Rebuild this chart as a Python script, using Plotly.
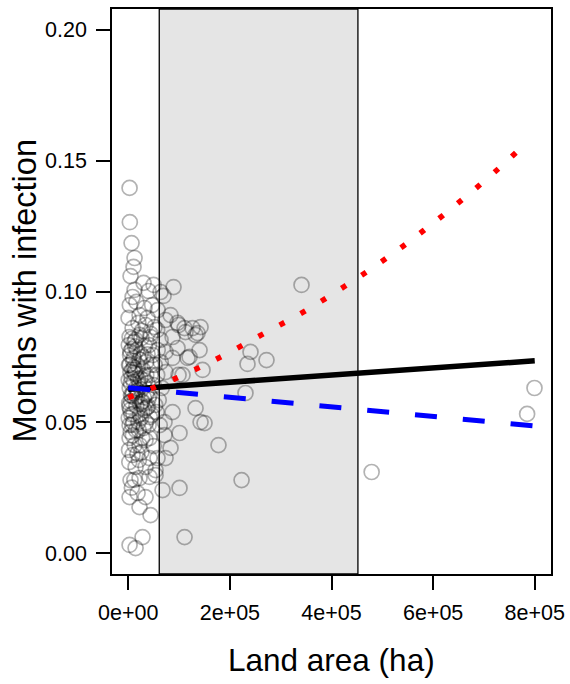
import plotly.graph_objects as go

# land area (ha) and proportion of months with infection
area = [2600, 3100, 6500, 12400, 10400, 4500, 30100, 49800, 89100, 12400,
        63600, 39900, 69500, 8500, 32000, 22200, 38000, 73400, 97000, 8500,
        51700, 126500, 136400, 110800, 2600, 22200, 43900, 63600, 14400, 83200,
        142300, 112700, 132400, 99000, 87200, 97000, 116700, 146200, 99000, 240600,
        234700, 272100, 230700, 341000, 120600, 87200, 73400, 106800, 73400, 140300,
        87200, 100900, 83200, 73400, 57600, 41900, 8500, 14400, 34000, 53700,
        132400, 142300, 2600, 41900, 22200, 71400, 71400, 150100, 177600, 223000,
        479000, 799500, 785000, 4500, 22200, 41900, 53700, 67500, 100900, 2600,
        18300, 34000, 22200, 43900, 28100, 2600, 14400, 110800,
        1000, 3500, 1500, 4200, 800, 2800, 5200, 1800, 3900, 900, 2600, 4800,
        12000, 17000, 10500, 19000, 14000, 11000, 18000, 13000, 16000, 10000, 20000, 15000, 12500,
        26000, 33000, 24500, 35000, 29000, 24000, 31000, 36000, 27000, 32000, 25000, 30000, 34000,
        41000, 48000, 52000, 44000, 50000, 42000, 53000, 46000, 40000,
        58000, 64000, 57000, 66000, 60000, 56000, 62000,
        3000, 16000, 47000, 58000, 600, 34000, 57000, 20000, 27000, 44000,
        1500, 26000, 50000, 2000, 21000, 8000, 7000, 8000, 7500, 21000,
        22000, 38000, 39000, 45000, 6000, 5000, 9000, 12000, 7000, 18000,
        35000, 38000, 3000, 15000, 28000, 9000, 6500, 11000, 23000, 33000, 40000,
        4000, 9500, 14000, 19500, 25500, 30500, 36500, 42500, 5500, 11500,
        17500, 23500, 29500, 35500, 7000, 13500, 20500, 27500, 2000, 10000]
infection = [0.1396, 0.1265, 0.1185, 0.1128, 0.1094, 0.1059, 0.1033, 0.1025, 0.1017, 0.1006,
             0.0998, 0.1002, 0.0983, 0.0979, 0.0937, 0.0910, 0.0899, 0.0891, 0.0880, 0.0860,
             0.0864, 0.0860, 0.0841, 0.0860, 0.0826, 0.0834, 0.0826, 0.0815, 0.0815, 0.0910,
             0.0864, 0.0845, 0.0834, 0.0872, 0.0826, 0.0784, 0.0746, 0.0700, 0.0681, 0.0769,
             0.0723, 0.0738, 0.0612, 0.1025, 0.0750, 0.0746, 0.0692, 0.0681, 0.0769, 0.0776,
             0.0539, 0.0459, 0.0402, 0.0363, 0.0363, 0.0363, 0.0375, 0.0329, 0.0329, 0.0317,
             0.0554, 0.0501, 0.0440, 0.0440, 0.0413, 0.0501, 0.0451, 0.0497, 0.0413, 0.0279,
             0.0310, 0.0631, 0.0532, 0.0279, 0.0287, 0.0291, 0.0298, 0.0241, 0.0249, 0.0214,
             0.0229, 0.0214, 0.0176, 0.0145, 0.0061, 0.0031, 0.0019, 0.0061,
             0.0795, 0.0757, 0.0719, 0.0692, 0.0662, 0.0631, 0.0604, 0.0574, 0.0547, 0.0516, 0.0489, 0.0463,
             0.0807, 0.0776, 0.0746, 0.0715, 0.0685, 0.0654, 0.0623, 0.0593, 0.0562, 0.0532, 0.0501, 0.0470, 0.0413,
             0.0822, 0.0792, 0.0761, 0.0730, 0.0700, 0.0669, 0.0639, 0.0608, 0.0577, 0.0547, 0.0516, 0.0478, 0.0432,
             0.0795, 0.0757, 0.0719, 0.0681, 0.0642, 0.0604, 0.0566, 0.0528, 0.0489,
             0.0776, 0.0730, 0.0681, 0.0631, 0.0585, 0.0539, 0.0489,
             0.0948, 0.0960, 0.0948, 0.0929, 0.0899, 0.0872, 0.0853, 0.0880, 0.0850, 0.0838,
             0.0394, 0.0386, 0.0409, 0.0348, 0.0356, 0.0490, 0.0600, 0.0700, 0.0780, 0.0640,
             0.0740, 0.0650, 0.0560, 0.0720, 0.0530, 0.0650, 0.0450, 0.0280, 0.0250, 0.0380,
             0.0500, 0.0760, 0.0720, 0.0630, 0.0580, 0.0610, 0.0670, 0.0710, 0.0530, 0.0660, 0.0590,
             0.0770, 0.0735, 0.0700, 0.0665, 0.0625, 0.0595, 0.0555, 0.0520, 0.0580, 0.0690,
             0.0600, 0.0570, 0.0750, 0.0680, 0.0820, 0.0790, 0.0470, 0.0440, 0.0560, 0.0500]

# fitted lines
fit_x = [0, 800000]
fit_black = [0.0626, 0.0735]
fit_blue = [0.0632, 0.0486]

curve_x = [0, 90000, 177000, 262000, 345000, 426000, 505000, 582000, 656000, 729000, 768000]
curve_y = [0.0594, 0.0665, 0.0745, 0.0834, 0.0922, 0.1020, 0.1123, 0.1234, 0.1349, 0.1470, 0.1540]

band = [61000, 452000]

x_ticks = [0, 200000, 400000, 600000, 800000]
x_labels = ['0e+00', '2e+05', '4e+05', '6e+05', '8e+05']
y_ticks = [0, 0.05, 0.10, 0.15, 0.20]
y_labels = ['0.00', '0.05', '0.10', '0.15', '0.20']

font = 'Liberation Sans, Arial, sans-serif'

fig = go.Figure()

fig.add_shape(type='rect', xref='x', yref='paper', x0=band[0], x1=band[1], y0=0, y1=1,
              fillcolor='#e5e5e5', line=dict(color='black', width=1.3), layer='below')

fig.add_trace(go.Scatter(x=area, y=infection, mode='markers',
                         marker=dict(symbol='circle-open', size=15, color='rgba(0,0,0,0.3)',
                                     line=dict(width=1.7)),
                         showlegend=False, hoverinfo='skip'))

fig.add_trace(go.Scatter(x=fit_x, y=fit_black, mode='lines',
                         line=dict(color='black', width=5.5), showlegend=False))
fig.add_trace(go.Scatter(x=fit_x, y=fit_blue, mode='lines',
                         line=dict(color='#0000ff', width=5, dash='22px,26px'), showlegend=False))
fig.add_trace(go.Scatter(x=curve_x, y=curve_y, mode='lines', line_shape='spline',
                         line=dict(color='#ff0000', width=5.5, dash='5.5px,18.5px'), showlegend=False))

fig.update_xaxes(range=[-32000, 832000], tickvals=x_ticks, ticktext=x_labels,
                 ticks='outside', ticklen=14, tickwidth=1.5, tickcolor='black',
                 showline=True, mirror=True, linecolor='black', linewidth=1.5,
                 showgrid=False, zeroline=False, tickfont=dict(size=21.5, color='black'),
                 ticklabelstandoff=4)
fig.update_yaxes(range=[-0.008, 0.208], tickvals=y_ticks, ticktext=y_labels,
                 ticks='outside', ticklen=14, tickwidth=1.5, tickcolor='black',
                 showline=True, mirror=True, linecolor='black', linewidth=1.5,
                 showgrid=False, zeroline=False, tickfont=dict(size=21.5, color='black'),
                 ticklabelstandoff=5)

fig.add_annotation(text='Land area (ha)', xref='paper', yref='paper', x=0.5, y=0,
                   yshift=-86, showarrow=False, yanchor='middle', xanchor='center',
                   font=dict(size=31.5, color='black'))
fig.add_annotation(text='Months with infection', xref='paper', yref='paper', x=0, y=0.5,
                   xshift=-88, showarrow=False, textangle=-90, xanchor='center', yanchor='middle',
                   font=dict(size=32.5, color='black'))

fig.update_layout(width=570, height=684, margin=dict(l=112, r=19, t=9, b=110, autoexpand=False),
                  plot_bgcolor='white', paper_bgcolor='white', font=dict(family=font))

fig.write_html("out.html", config={'displayModeBar': False},
               post_script="document.body.style.margin='0';")
